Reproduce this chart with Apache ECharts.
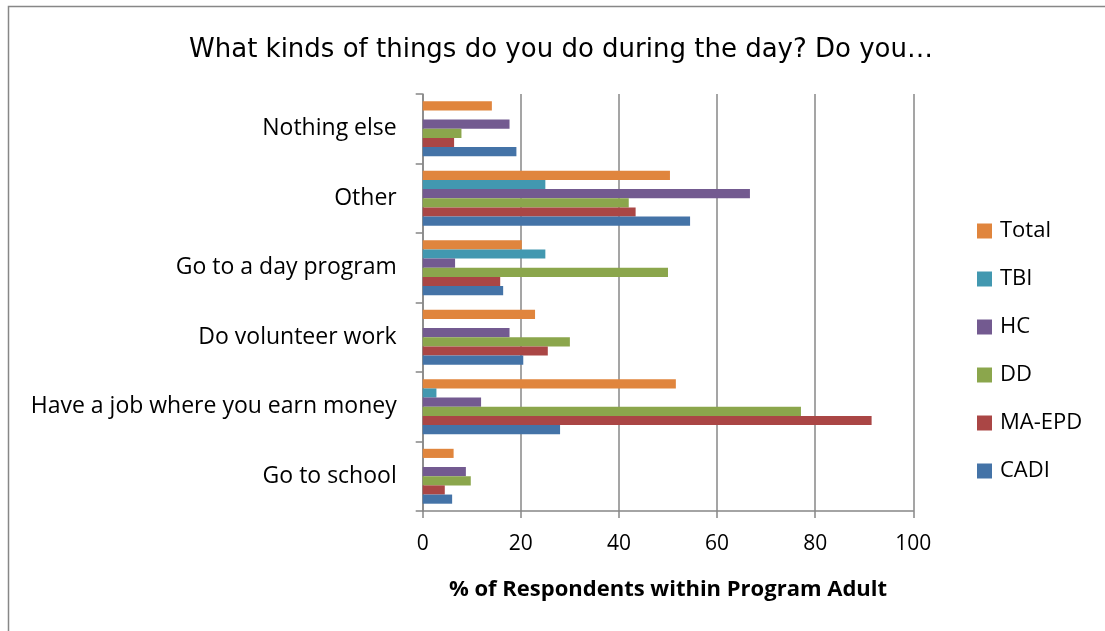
<!DOCTYPE html>
<html>
<head>
<meta charset="utf-8">
<script src="https://cdn.jsdelivr.net/npm/echarts@6/dist/echarts.min.js"></script>
<style>
  html, body { margin: 0; padding: 0; background: #fff; }
  #chart { width: 1105px; height: 631px; }
</style>
</head>
<body>
<div id="chart"></div>
<script>
// Activities, listed bottom-to-top as the category axis draws them
const categories = [
  'Go to school',
  'Have a job where you earn money',
  'Do volunteer work',
  'Go to a day program',
  'Other',
  'Nothing else'
];

// % of respondents per program (same order as categories)
const cadi   = [6.0, 28.0, 20.5, 16.4, 54.5, 19.1];
const maEpd  = [4.5, 91.5, 25.5, 15.8, 43.4, 6.4];
const dd     = [9.8, 77.1, 30.0, 50.0, 42.0, 7.9];
const hc     = [8.8, 11.9, 17.7, 6.6, 66.7, 17.7];
const tbi    = [0, 2.8, 0, 25.0, 25.0, 0];
const total  = [6.3, 51.6, 22.9, 20.2, 50.4, 14.1];

const xTicks = [0, 20, 40, 60, 80, 100];
const legendOrder = ['Total', 'TBI', 'HC', 'DD', 'MA-EPD', 'CADI'];

// First series is drawn at the top of each band
const seriesDefs = [
  { name: 'Total',  data: total, color: '#E0853D' },
  { name: 'TBI',    data: tbi,   color: '#4298B0' },
  { name: 'HC',     data: hc,    color: '#735A90' },
  { name: 'DD',     data: dd,    color: '#8BA64C' },
  { name: 'MA-EPD', data: maEpd, color: '#AA4645' },
  { name: 'CADI',   data: cadi,  color: '#4473A7' }
];

const chart = echarts.init(document.getElementById('chart'), null, { renderer: 'canvas' });
const gridColor = '#878787';
const font = '"Open Sans", Lato, sans-serif';

chart.setOption({
  animation: false,
  backgroundColor: '#fff',
  title: {
    text: 'What kinds of things do you do during the day? Do you\u2026',
    left: 556, top: 32, textAlign: 'center',
    textStyle: { fontFamily: '"DejaVu Sans", sans-serif', fontSize: 26, fontWeight: 'normal', color: '#000' }
  },
  graphic: [{
    type: 'rect',
    shape: { x: 8.5, y: 6.5, width: 1200, height: 700 },
    style: { fill: null, stroke: '#878787', lineWidth: 1.5 },
    silent: true
  }],
  legend: {
    data: legendOrder,
    orient: 'vertical',
    left: 977, top: 220, padding: 0,
    itemWidth: 15, itemHeight: 15, itemGap: 26,
    icon: 'rect',
    textStyle: { fontFamily: font, fontSize: 22, color: '#000', padding: [0, 0, 0, 3] }
  },
  grid: { left: 422.7, right: 191.7, top: 94, height: 417, containLabel: false },
  xAxis: {
    type: 'value', min: 0, max: 100, interval: 20,
    name: '% of Respondents within Program Adult',
    nameLocation: 'middle', nameGap: 68,
    nameTextStyle: { fontFamily: font, fontSize: 22, fontWeight: 'bold', color: '#000' },
    axisLine: { show: true, lineStyle: { color: gridColor, width: 1.5 } },
    axisTick: { show: true, length: 7, lineStyle: { color: gridColor, width: 1.5 } },
    axisLabel: {
      fontFamily: font, fontSize: 21, color: '#000', margin: 23,
      formatter: v => xTicks.includes(v) ? String(v) : ''
    },
    splitLine: { show: true, lineStyle: { color: gridColor, width: 1.5 } }
  },
  yAxis: {
    type: 'category', data: categories,
    axisLine: { show: true, lineStyle: { color: gridColor, width: 1.5 } },
    axisTick: { show: true, length: 7, alignWithLabel: false, lineStyle: { color: gridColor, width: 1.5 } },
    axisLabel: { fontFamily: font, fontSize: 23, color: '#000', margin: 26, padding: [4, 0, 0, 0] }
  },
  series: seriesDefs.map(s => ({
    name: s.name, type: 'bar', data: s.data,
    barGap: '0%', barCategoryGap: '21%',
    itemStyle: { color: s.color }
  }))
});
</script>
</body>
</html>
